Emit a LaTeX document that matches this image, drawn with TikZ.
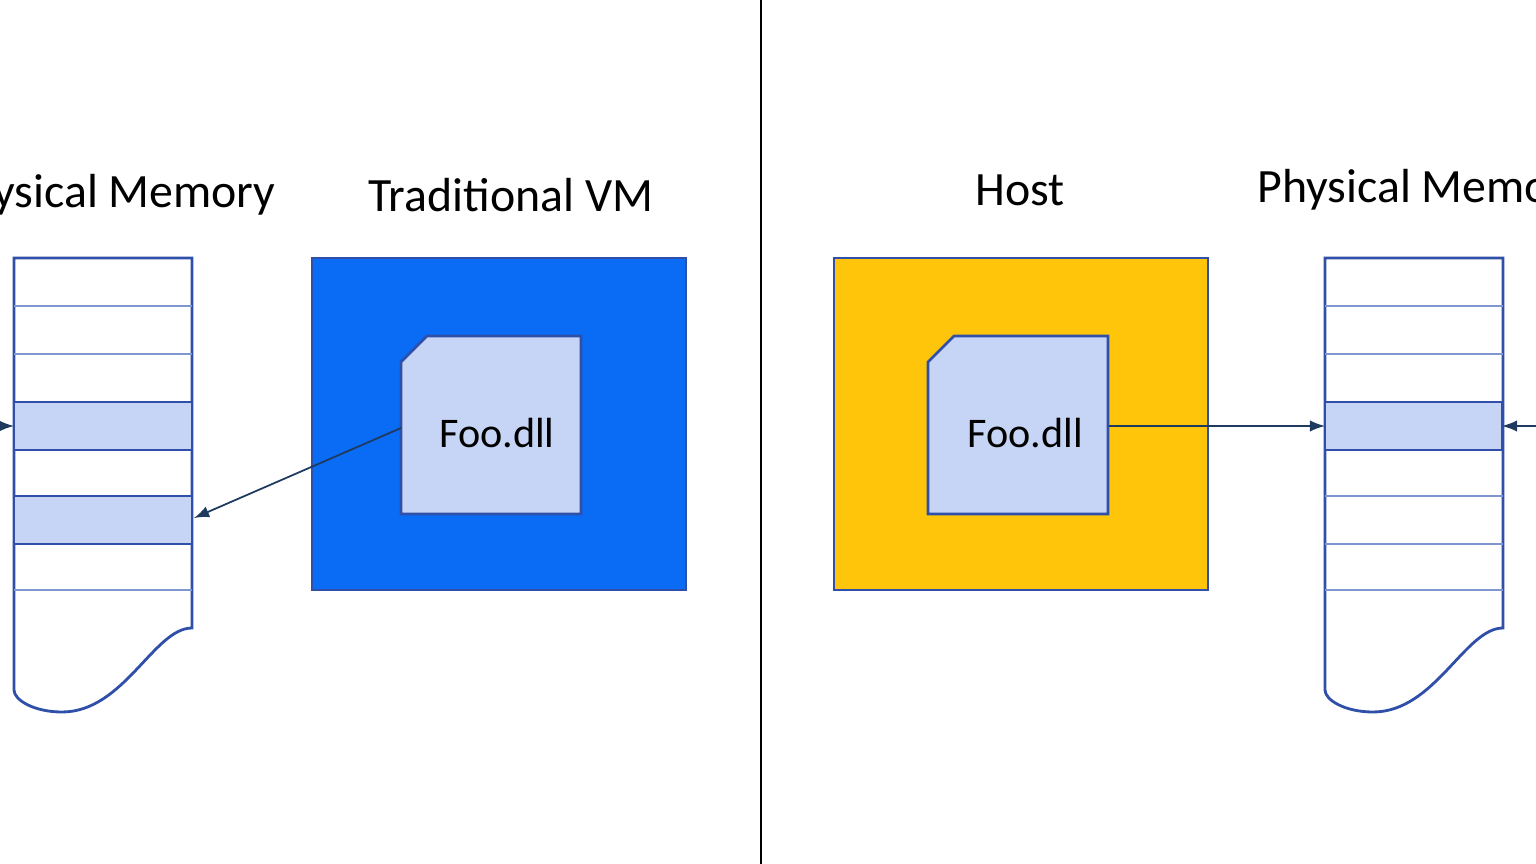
\documentclass[tikz,border=0pt]{standalone}
\usepackage{fontspec}
\setmainfont{Carlito}
\definecolor{memline}{HTML}{2F4FA8}
\definecolor{rowline}{HTML}{7F97D0}
\definecolor{cellfill}{HTML}{C6D5F5}
\definecolor{vmblue}{HTML}{0A6CF5}
\definecolor{hostyellow}{HTML}{FFC50A}
\definecolor{arrowcol}{HTML}{1F3A5F}
\tikzset{
  title/.style={font=\fontsize{13.6}{15}\selectfont, anchor=center},
  membox/.style={draw=memline, line width=0.8pt},
  cell/.style={fill=cellfill, draw=memline, line width=0.8pt},
  dll/.style={fill=cellfill, draw=memline, line width=0.8pt},
  link/.style={draw=arrowcol, line width=0.5pt, -latex},
}
\newcommand{\memcol}[1]{%
  \draw[membox] (#1,258) -- (#1+178,258) -- (#1+178,628)
    .. controls (#1+140,628) and (#1+110,712) .. (#1+48,712)
    .. controls (#1+20,712) and (#1,700) .. (#1,690) -- cycle;
  \foreach \y in {306,354,402,450,496,544,590}
    \draw[rowline, line width=0.4pt] (#1,\y) -- (#1+178,\y);
}
\newcommand{\dllshape}[2]{%
  \draw[dll] (#1,362) -- (#1+26,336) -- (#1+180,336) -- (#1+180,514) -- (#1,514) -- cycle;
}
\begin{document}
\begin{tikzpicture}[x=0.01cm, y=-0.01cm]
  \useasboundingbox (0,0) rectangle (1536,864);

  % divider
  \draw[line width=0.7pt] (761,0) -- (761,864);

  % left side
  \node[title] (leftmemtitle) at (110,195) {Physical Memory};
  \memcol{14}
  \draw[cell] (14,402) rectangle (192,450);
  \draw[cell] (14,496) rectangle (192,544);
  \coordinate (leftcell) at (194,518);
  \coordinate (leftin) at (14,426);
  \coordinate (leftfar) at (-20,426);
  \draw[link] (leftfar) -- (leftin);

  \node[title] (vmtitle) at (511,195) {Traditional VM};
  \node[fill=vmblue, draw=memline, minimum width=3.74cm, minimum height=3.32cm,
        inner sep=0pt] (vm) at (499,424) {};
  \dllshape{401}{}
  \node[font=\fontsize{12}{14}\selectfont] (vmdll) at (497,433) {Foo.dll};
  \coordinate (vmdllout) at (401,428);
  \draw[link] (vmdllout) -- (leftcell);

  % right side
  \node[title] (hosttitle) at (1020,190) {Host};
  \node[fill=hostyellow, draw=memline, minimum width=3.74cm, minimum height=3.32cm,
        inner sep=0pt] (host) at (1021,424) {};
  \dllshape{928}{}
  \node[font=\fontsize{12}{14}\selectfont] (hostdll) at (1025,433) {Foo.dll};
  \coordinate (hostdllout) at (1109,426);

  \node[title, anchor=west] (rightmemtitle) at (1245,190) {Physical Memory};
  \memcol{1325}
  \draw[cell] (1325,402) rectangle (1502,450);
  \coordinate (rightin) at (1325,426);
  \coordinate (rightin2) at (1502,426);
  \coordinate (rightfar) at (1560,426);
  \draw[link] (hostdllout) -- (rightin);
  \draw[link] (rightfar) -- (rightin2);
\end{tikzpicture}
\end{document}
